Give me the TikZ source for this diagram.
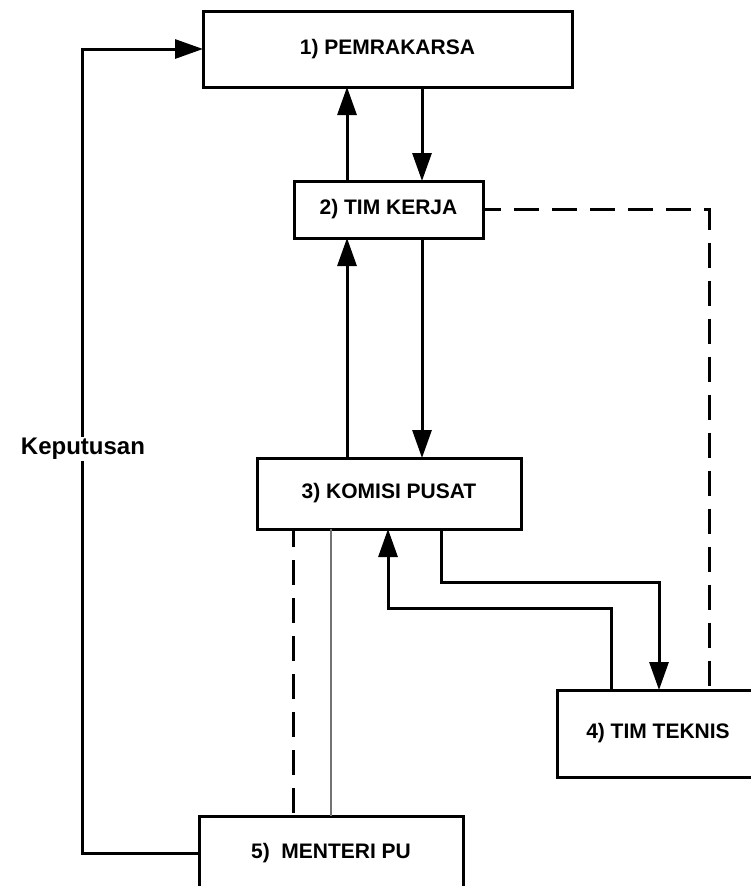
\documentclass[tikz,border=0pt]{standalone}
\usepackage{fontspec}
\setmainfont{Liberation Sans}
\usetikzlibrary{arrows.meta}
\begin{document}
\begin{tikzpicture}[x=1pt,y=-1pt,
  box/.style={draw,line width=3pt,fill=white,inner sep=0pt,outer sep=0pt,font=\fontsize{21}{24}\selectfont\bfseries},
  conn/.style={line width=3pt},
  arr/.style={line width=3pt,-{Triangle[length=28pt,width=19pt]}},
  dsh/.style={line width=3pt,dash pattern=on 25pt off 13pt,dash phase=7pt},
  thin/.style={line width=1.2pt,draw=black!55}]
\useasboundingbox (0,0) rectangle (751,886);
\clip (0,0) rectangle (751,886);
\fill[white] (0,0) rectangle (751,886);

\node[box,minimum width=369pt,minimum height=76pt] (b1) at (387.5,49) {1) PEMRAKARSA};
\node[box,minimum width=189pt,minimum height=57pt] (b2) at (388.5,209.5) {2) TIM KERJA};
\node[box,minimum width=264pt,minimum height=71pt] (b3) at (389,493.5) {3) KOMISI PUSAT};
\node[box,minimum width=202pt,minimum height=87pt] (b4) at (658,733.5) {4) TIM TEKNIS};
\node[box,minimum width=264pt,minimum height=74pt] (b5) at (331,853) {5)\ \ MENTERI PU};

\coordinate (xa) at (347,0);
\coordinate (xb) at (422,0);
\coordinate (xd) at (709,0);
\coordinate (xe) at (441,582);
\coordinate (xf) at (659,0);
\coordinate (xg) at (611,608);
\coordinate (xh) at (388,0);
\coordinate (xi) at (293,0);
\coordinate (xj) at (331,0);
\coordinate (kl) at (82,0);

% PEMRAKARSA <-> TIM KERJA
\draw[arr] (xa |- b2.north) -- (xa |- b1.south);
\draw[arr] (xb |- b1.south) -- (xb |- b2.north);
% TIM KERJA <-> KOMISI PUSAT
\draw[arr] (xa |- b3.north) -- (xa |- b2.south);
\draw[arr] (xb |- b2.south) -- (xb |- b3.north);
% TIM KERJA - - TIM TEKNIS
\draw[dsh] (b2.east) -- (xd |- b2.east) -- (xd |- b4.north);
% KOMISI PUSAT <-> TIM TEKNIS
\draw[arr] (xe |- b3.south) -- (xe) -- (xf |- xe) -- (xf |- b4.north);
\draw[arr] (xg |- b4.north) -- (xg) -- (xh |- xg) -- (xh |- b3.south);
% KOMISI PUSAT -- MENTERI PU
\draw[dsh] (xi |- b3.south) -- (xi |- b5.north);
\draw[thin] (xj |- b3.south) -- (xj |- b5.north);
% Keputusan
\draw[arr] (b5.west) -- (kl |- b5.west) -- (kl |- b1.west) -- (b1.west);
\node[fill=white,inner sep=1pt,font=\fontsize{24}{28}\selectfont\bfseries] (kep) at (83,449) {Keputusan};
\end{tikzpicture}
\end{document}
